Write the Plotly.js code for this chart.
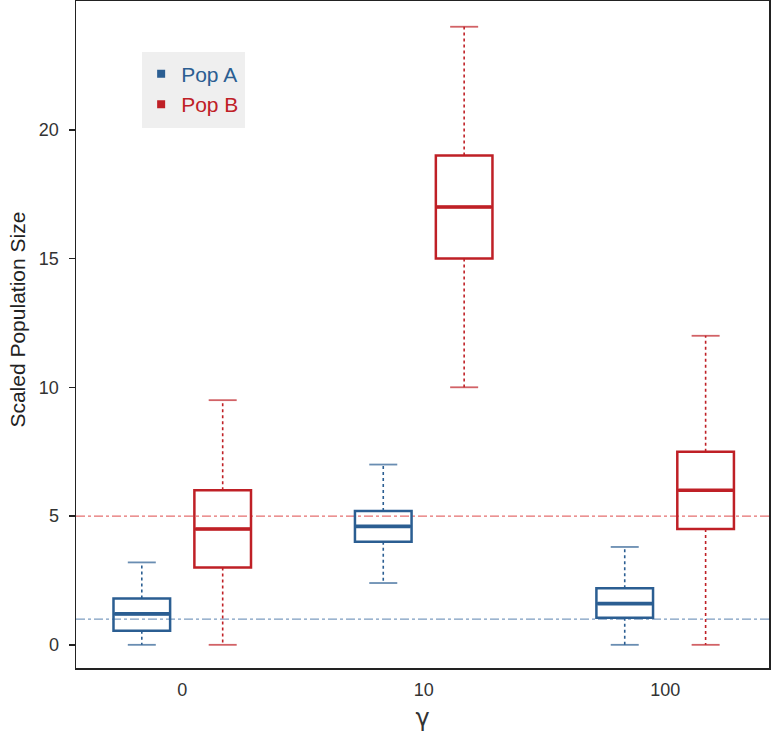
<!DOCTYPE html>
<html>
<head>
<meta charset="utf-8">
<script src="https://cdn.plot.ly/plotly-3.0.1.min.js"></script>
<style>html,body{margin:0;padding:0;background:#fff;}#chart{width:772px;height:732px;}</style>
</head>
<body>
<div id="chart"></div>
<script>
// ---- data ----
const gammaLabels = ['0', '10', '100'];
const seriesNames = ['Pop A', 'Pop B'];

const popA_lower  = [0.0, 2.4, 0.0];
const popA_q1     = [0.55, 4.0, 1.05];
const popA_median = [1.2, 4.6, 1.6];
const popA_q3     = [1.8, 5.2, 2.2];
const popA_upper  = [3.2, 7.0, 3.8];

const popB_lower  = [0.0, 10.0, 0.0];
const popB_q1     = [3.0, 15.0, 4.5];
const popB_median = [4.5, 17.0, 6.0];
const popB_q3     = [6.0, 19.0, 7.5];
const popB_upper  = [9.5, 24.0, 12.0];

const refLines = [1, 5];          // reference sizes: Pop A = 1, Pop B = 5
const yTicks = [0, 5, 10, 15, 20];

// ---- styles ----
const colA = '#2b5e92';
const colB = '#bf2026';
const colAref = 'rgba(110,145,185,0.9)';
const colBref = 'rgba(225,95,95,0.9)';
const font = 'Liberation Sans, Arial, Helvetica, sans-serif';

function boxTrace(name, group, q1, med, q3, color) {
  return {
    type: 'box', name: name, x: gammaLabels, offsetgroup: group,
    q1: q1, median: med, q3: q3, lowerfence: q1, upperfence: q3,
    whiskerwidth: 0, boxpoints: false, showlegend: false,
    fillcolor: 'rgba(0,0,0,0)', line: {color: color, width: 2.5},
    hoverinfo: 'skip'
  };
}
function medianTrace(group, med, color) {
  return {
    type: 'scatter', mode: 'markers', x: gammaLabels, y: med, offsetgroup: group,
    showlegend: false, hoverinfo: 'skip',
    marker: {symbol: 'line-ew', size: 39, color: color, line: {color: color, width: 3.6}}
  };
}
function whiskerTrace(group, q1, q3, lo, hi, color) {
  const xs = [], ys = [], sz = [];
  gammaLabels.forEach((g, i) => {
    xs.push(g, g, g, g, g, g);
    ys.push(q3[i], hi[i], null, q1[i], lo[i], null);
    sz.push(0, 20, 0, 0, 20, 0);
  });
  return {
    type: 'scatter', mode: 'lines+markers', x: xs, y: ys, offsetgroup: group,
    connectgaps: false, showlegend: false, hoverinfo: 'skip',
    line: {color: color, width: 1.6, dash: 'dot'},
    marker: {symbol: 'line-ew', size: sz, color: color, line: {color: color, width: 1.8}}
  };
}
function legendTrace(name, group, color) {
  return {
    type: 'scatter', mode: 'markers', x: [null], y: [null], offsetgroup: group,
    name: '<span style="color:' + color + '">' + name + '</span>',
    marker: {symbol: 'square', size: 8, color: color}
  };
}

const data = [
  whiskerTrace('A', popA_q1, popA_q3, popA_lower, popA_upper, colA),
  whiskerTrace('B', popB_q1, popB_q3, popB_lower, popB_upper, colB),
  boxTrace(seriesNames[0], 'A', popA_q1, popA_median, popA_q3, colA),
  boxTrace(seriesNames[1], 'B', popB_q1, popB_median, popB_q3, colB),
  medianTrace('A', popA_median, colA),
  medianTrace('B', popB_median, colB),
  legendTrace(seriesNames[0], 'A', colA),
  legendTrace(seriesNames[1], 'B', colB)
];

const layout = {
  width: 772, height: 732,
  margin: {l: 76, r: 3, t: 1, b: 64},
  paper_bgcolor: '#fff', plot_bgcolor: '#fff',
  font: {family: font, size: 18, color: '#333'},
  boxmode: 'group', boxgap: 0.33, boxgroupgap: 0.3,
  scattermode: 'group', scattergap: 0.33,
  showlegend: true,
  legend: {
    x: 0.094, y: 0.921, xanchor: 'left', yanchor: 'top',
    bgcolor: 'rgba(0,0,0,0)', borderwidth: 0,
    font: {family: font, size: 21},
    itemwidth: 30, tracegroupgap: 0
  },
  xaxis: {
    type: 'category', range: [-0.44, 2.43],
    showline: true, mirror: true, linecolor: '#222', linewidth: 1.5,
    ticks: 'outside', ticklen: 5, tickcolor: 'rgba(0,0,0,0)',
    showgrid: false, zeroline: false,
    tickfont: {family: font, size: 18, color: '#333'},
    title: {text: 'γ', font: {family: 'DejaVu Sans, sans-serif', size: 24, color: '#333'}, standoff: 10}
  },
  yaxis: {
    range: [-0.9, 25], tickvals: yTicks,
    showline: true, mirror: true, linecolor: '#222', linewidth: 1.5,
    ticks: 'outside', ticklen: 6, tickcolor: '#222', tickwidth: 1.5,
    ticklabelstandoff: 6,
    showgrid: false, zeroline: false,
    tickfont: {family: font, size: 18, color: '#333'}
  },
  annotations: [
    {text: 'Scaled Population Size', textangle: -90, showarrow: false,
     xref: 'paper', yref: 'paper', x: -0.084, y: 0.522, xanchor: 'center', yanchor: 'middle',
     font: {family: font, size: 21, color: '#222'}}
  ],
  shapes: [
    {type: 'rect', xref: 'paper', yref: 'paper', x0: 0.0952, x1: 0.2439, y0: 0.8096, y1: 0.9235,
     fillcolor: '#efefef', line: {width: 0}, layer: 'below'}
  ].concat(refLines.map((v, i) => ({
    type: 'line', xref: 'paper', yref: 'y', x0: 0, x1: 1, y0: v, y1: v,
    line: {color: i === 0 ? colAref : colBref, width: 1.2, dash: 'dashdot'},
    layer: 'below'
  })))
};

Plotly.newPlot('chart', data, layout, {displayModeBar: false, staticPlot: true});
</script>
</body>
</html>
